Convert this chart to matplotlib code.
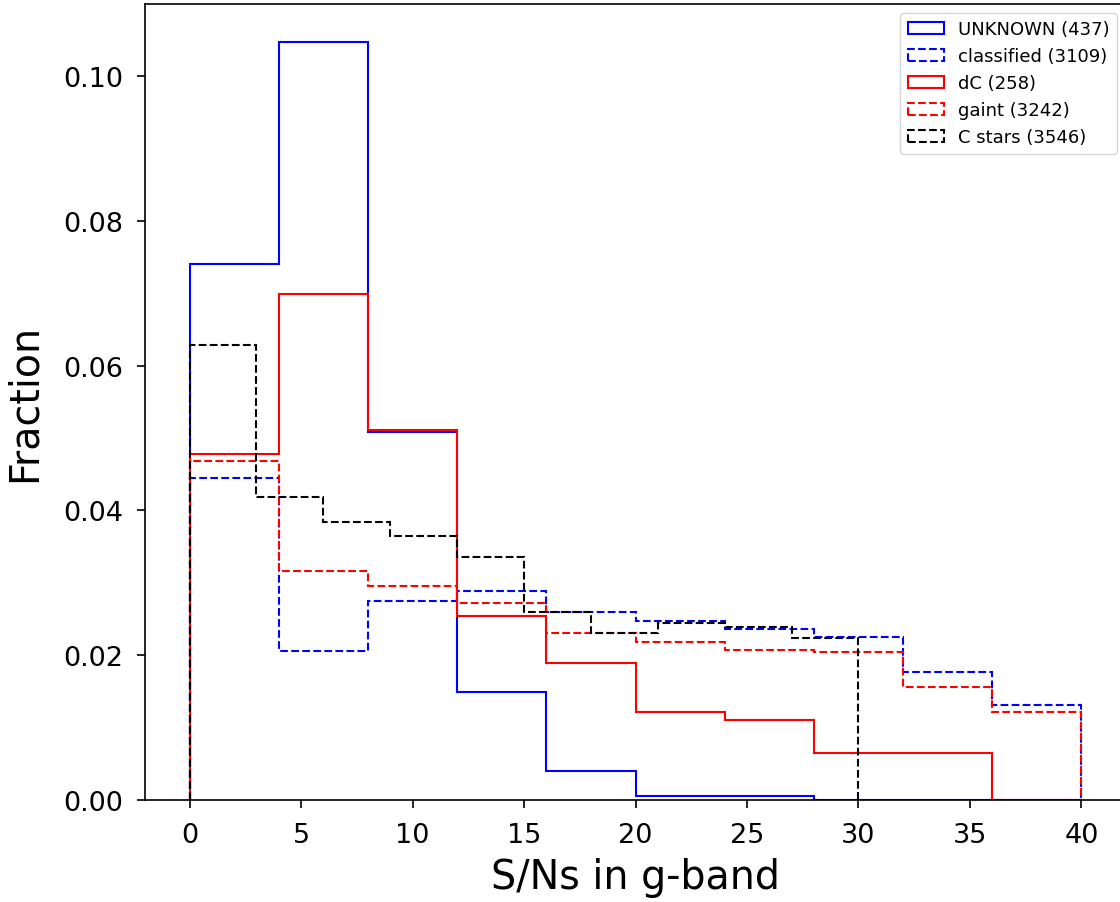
import numpy as np
import matplotlib
matplotlib.use('Agg')
import matplotlib.pyplot as plt

# bin edges
edges4 = np.arange(0, 44, 4)      # 0..40, width 4
edges3 = np.arange(0, 33, 3)      # 0..30, width 3

# fractions per bin
unknown = [0.0740, 0.1047, 0.0508, 0.0149, 0.0040, 0.0005, 0.0005, 0.0, 0.0, 0.0]
classified = [0.0445, 0.0206, 0.0275, 0.0289, 0.0260, 0.0247, 0.0236, 0.0225, 0.0177, 0.0131]
dc = [0.0478, 0.0699, 0.0511, 0.0254, 0.0189, 0.0122, 0.0110, 0.0065, 0.0065, 0.0]
gaint = [0.0468, 0.0316, 0.0296, 0.0272, 0.0231, 0.0218, 0.0207, 0.0204, 0.0156, 0.0122]
cstars = [0.0628, 0.0418, 0.0384, 0.0365, 0.0336, 0.0260, 0.0231, 0.0245, 0.0239, 0.0224]

labels = ['UNKNOWN (437)', 'classified (3109)', 'dC (258)', 'gaint (3242)', 'C stars (3546)']

fig = plt.figure(figsize=(11.2, 9.03), dpi=100)
ax = fig.add_axes([145 / 1120, 102 / 903, (1126 - 145) / 1120, (801 - 5) / 903])

lw = 1.5
ax.hist(edges4[:-1], bins=edges4, weights=unknown, histtype='step', color='blue', lw=lw, label=labels[0])
ax.hist(edges4[:-1], bins=edges4, weights=classified, histtype='step', color='blue', ls='--', lw=lw, label=labels[1])
ax.hist(edges4[:-1], bins=edges4, weights=dc, histtype='step', color='red', lw=lw, label=labels[2])
ax.hist(edges4[:-1], bins=edges4, weights=gaint, histtype='step', color='red', ls='--', lw=lw, label=labels[3])
ax.hist(edges3[:-1], bins=edges3, weights=cstars, histtype='step', color='black', ls='--', lw=lw, label=labels[4])

ax.set_xticks(np.arange(0, 45, 5))
ax.set_yticks(np.arange(0, 0.11, 0.02))
ax.tick_params(labelsize=19.5, length=6, width=1.2, pad=10)
for s in ax.spines.values():
    s.set_linewidth(1.2)

ax.set_xlabel('S/Ns in g-band', fontsize=28.5, labelpad=6)
ax.set_ylabel('Fraction', fontsize=28.5, labelpad=13)
ax.legend(loc='upper right', fontsize=13)

fig.savefig('out.png', dpi=100)
